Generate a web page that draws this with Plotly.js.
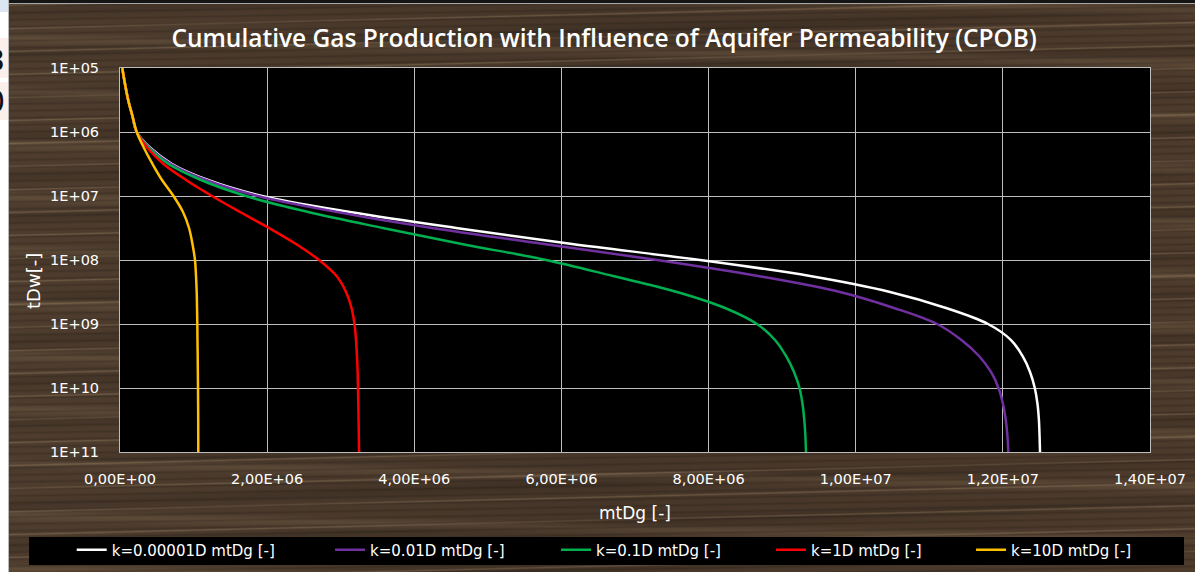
<!DOCTYPE html>
<html>
<head>
<meta charset="utf-8">
<script src="https://cdn.plot.ly/plotly-3.0.1.min.js"></script>
<style>
  html, body { margin: 0; padding: 0; background: #ffffff; }
  #frame { position: relative; width: 1195px; height: 572px; overflow: hidden; background: #ffffff; }
  /* spreadsheet cells peeking out on the left edge */
  #side { position: absolute; left: 0; top: 0; width: 8px; height: 572px; background: #ffffff; overflow: hidden; border-right: 1px solid #b8b8b8; }
  #side .c1 { position: absolute; left: 0; top: 0; width: 8px; height: 12px; background: #dbe6f3; }
  #side .c2 { position: absolute; left: 0; top: 38px; width: 8px; height: 40px; background: #fcefe9; }
  #side .c3 { position: absolute; left: 0; top: 82px; width: 8px; height: 38px; background: #fcefe9; }
  #side .d { position: absolute; right: 3px; font-family: "DejaVu Sans", sans-serif; font-size: 30px; line-height: 30px; color: #111; }
  /* wooden chart area */
  #wood {
    position: absolute; left: 9px; top: 4px; width: 1186px; height: 568px;
    background-color: #4a3a2c;
    background-image:
      repeating-linear-gradient(179deg, rgba(0,0,0,0) 0px, rgba(0,0,0,0.16) 2px, rgba(0,0,0,0) 4px, rgba(0,0,0,0) 7px),
      repeating-linear-gradient(178.6deg, rgba(215,185,145,0) 0px, rgba(215,185,145,0.22) 1.5px, rgba(215,185,145,0) 3px, rgba(215,185,145,0) 23px),
      repeating-linear-gradient(181.2deg, rgba(190,160,120,0) 0px, rgba(190,160,120,0.14) 6px, rgba(190,160,120,0) 14px, rgba(190,160,120,0) 53px),
      repeating-linear-gradient(177.8deg, rgba(0,0,0,0) 0px, rgba(0,0,0,0.12) 9px, rgba(0,0,0,0) 19px, rgba(0,0,0,0) 41px),
      linear-gradient(90deg, #4e3d2e, #463629 50%, #4d3b2c);
  }
  #topbar { position: absolute; left: 9px; top: 0; width: 1186px; height: 3px; background: #151515; border-bottom: 1px solid #a8a8a8; }
  #chart { position: absolute; left: 0; top: 0; width: 1195px; height: 572px; }
</style>
</head>
<body>
<div id="frame">
  <div id="side">
    <div class="c1"></div><div class="c2"></div><div class="c3"></div>
    <span class="d" style="top:46px">3</span>
    <span class="d" style="top:87px">0</span>
  </div>
  <div id="topbar"></div>
  <div id="wood"></div>
  <div id="chart"></div>
</div>
<script>
// Dimensionless aquifer time (shared sample points along each curve)
const tDw = [1.0e5, 1.78e5, 3.16e5, 5.62e5, 1.0e6, 1.78e6, 3.16e6, 5.62e6,
             1.0e7, 1.78e7, 3.16e7, 5.62e7, 1.0e8, 1.78e8, 3.16e8, 5.62e8,
             1.0e9, 1.78e9, 3.16e9, 5.62e9, 1.0e10, 1.78e10, 3.16e10, 5.62e10, 1.0e11];

// Cumulative dimensionless gas production mtDg for each aquifer permeability
const mtDg_k000001 = [3.1e4, 6.8e4, 1.11e5, 1.69e5, 2.27e5, 4.15e5, 7.07e5, 1.196e6,
                      1.930e6, 3.126e6, 4.567e6, 6.144e6, 7.883e6, 9.379e6, 1.0466e7, 1.1227e7,
                      1.1798e7, 1.2111e7, 1.2267e7, 1.2369e7, 1.2434e7, 1.2471e7, 1.2490e7, 1.2499e7, 1.2505e7];
const mtDg_k001 = [3.1e4, 6.8e4, 1.11e5, 1.69e5, 2.27e5, 4.08e5, 6.93e5, 1.169e6,
                   1.876e6, 2.950e6, 4.241e6, 5.763e6, 7.299e6, 8.672e6, 9.786e6, 1.0520e7,
                   1.1105e7, 1.1437e7, 1.1676e7, 1.1839e7, 1.1941e7, 1.2002e7, 1.2040e7, 1.2062e7, 1.2074e7];
const mtDg_k01 = [3.1e4, 6.8e4, 1.11e5, 1.69e5, 2.27e5, 3.94e5, 6.59e5, 1.101e6,
                  1.713e6, 2.559e6, 3.571e6, 4.644e6, 5.790e6, 6.701e6, 7.571e6, 8.223e6,
                  8.658e6, 8.903e6, 9.052e6, 9.161e6, 9.236e6, 9.277e6, 9.301e6, 9.316e6, 9.324e6];
const mtDg_k1 = [3.1e4, 6.8e4, 1.11e5, 1.69e5, 2.27e5, 3.74e5, 5.91e5, 8.97e5,
                 1.250e6, 1.631e6, 2.025e6, 2.392e6, 2.705e6, 2.943e6, 3.072e6, 3.147e6,
                 3.187e6, 3.208e6, 3.221e6, 3.230e6, 3.235e6, 3.239e6, 3.243e6, 3.246e6, 3.249e6];
const mtDg_k10 = [3.1e4, 6.8e4, 1.11e5, 1.69e5, 2.27e5, 3.26e5, 4.42e5, 5.71e5,
                  7.27e5, 8.56e5, 9.38e5, 9.85e5, 1.019e6, 1.033e6, 1.0425e6, 1.047e6,
                  1.051e6, 1.053e6, 1.056e6, 1.058e6, 1.060e6, 1.0616e6, 1.063e6, 1.0636e6, 1.064e6];

const seriesNames = ['k=0.00001D mtDg [-]', 'k=0.01D mtDg [-]', 'k=0.1D mtDg [-]', 'k=1D mtDg [-]', 'k=10D mtDg [-]'];

// Axis ticks
const xTickVals = [0, 2e6, 4e6, 6e6, 8e6, 1e7, 1.2e7, 1.4e7];
const xTickText = ['0,00E+00', '2,00E+06', '4,00E+06', '6,00E+06', '8,00E+06', '1,00E+07', '1,20E+07', '1,40E+07'];
const yTickVals = [1e5, 1e6, 1e7, 1e8, 1e9, 1e10, 1e11];
const yTickText = ['1E+05', '1E+06', '1E+07', '1E+08', '1E+09', '1E+10', '1E+11'];

const seriesX = [mtDg_k000001, mtDg_k001, mtDg_k01, mtDg_k1, mtDg_k10];
const colors = ['#ffffff', '#7030a0', '#00b050', '#ff0000', '#ffc000'];
const legendIds = ['legend', 'legend2', 'legend3', 'legend4', 'legend5'];
const legendLeft = [0.0600, 0.2762, 0.4653, 0.6452, 0.8126];

const traces = seriesX.map((xs, i) => ({
  type: 'scatter', mode: 'lines',
  x: xs, y: tDw, name: seriesNames[i],
  line: {color: colors[i], width: 2.5, shape: 'spline', smoothing: 1},
  legend: legendIds[i],
  hoverinfo: 'skip'
}));

const GRID = '#bdbdbd';
const TXT = '#ffffff';
const FONT = 'DejaVu Sans, sans-serif';

const layout = {
  width: 1195, height: 572,
  margin: {l: 120, r: 45, t: 68, b: 120, pad: 0},
  paper_bgcolor: 'rgba(0,0,0,0)',
  plot_bgcolor: '#000000',
  title: {
    text: 'Cumulative Gas Production with Influence of Aquifer Permeability (CPOB)',
    x: 0.5055, xanchor: 'center', xref: 'container',
    y: 0.9336, yanchor: 'middle', yref: 'container',
    font: {family: 'Open Sans, sans-serif', size: 24.5, color: TXT, weight: 600}
  },
  xaxis: {
    range: [0, 1.4e7],
    tickmode: 'array', tickvals: xTickVals, ticktext: xTickText,
    showgrid: true, gridcolor: GRID, gridwidth: 1,
    zeroline: false, showline: true, linecolor: GRID, linewidth: 1, mirror: true,
    ticks: 'outside', ticklen: 14, tickcolor: 'rgba(0,0,0,0)',
    tickfont: {family: FONT, size: 14.5, color: TXT},
    fixedrange: true
  },
  yaxis: {
    type: 'log', range: [11, 5],
    tickmode: 'array', tickvals: yTickVals, ticktext: yTickText,
    showgrid: true, gridcolor: GRID, gridwidth: 1,
    zeroline: false, showline: true, linecolor: GRID, linewidth: 1, mirror: true,
    ticks: 'outside', ticklen: 17, tickcolor: 'rgba(0,0,0,0)',
    tickfont: {family: FONT, size: 14.5, color: TXT},
    fixedrange: true
  },
  showlegend: true,
  shapes: [{
    type: 'rect', xref: 'paper', yref: 'paper',
    x0: -0.0883, x1: 1.0330, y0: -0.2943, y1: -0.2214,
    fillcolor: '#000000', line: {width: 0}, layer: 'above'
  }],
  annotations: [
    {text: 'mtDg [-]', xref: 'paper', yref: 'paper', x: 0.5, y: -0.1589,
     xanchor: 'center', yanchor: 'middle', showarrow: false,
     font: {family: FONT, size: 17, color: TXT}},
    {text: 'tDw[-]', xref: 'paper', yref: 'paper', x: -0.0845, y: 0.4453,
     xanchor: 'center', yanchor: 'middle', textangle: -90, showarrow: false,
     font: {family: FONT, size: 18, color: TXT}}
  ]
};

legendIds.forEach((id, i) => {
  layout[id] = {
    x: legendLeft[i], xref: 'container', xanchor: 'left',
    y: 0.0385, yref: 'container', yanchor: 'middle',
    orientation: 'h', bgcolor: 'rgba(0,0,0,0)', borderwidth: 0,
    font: {family: FONT, size: 15, color: TXT}
  };
});

Plotly.newPlot('chart', traces, layout, {displayModeBar: false, staticPlot: true});
</script>
</body>
</html>
